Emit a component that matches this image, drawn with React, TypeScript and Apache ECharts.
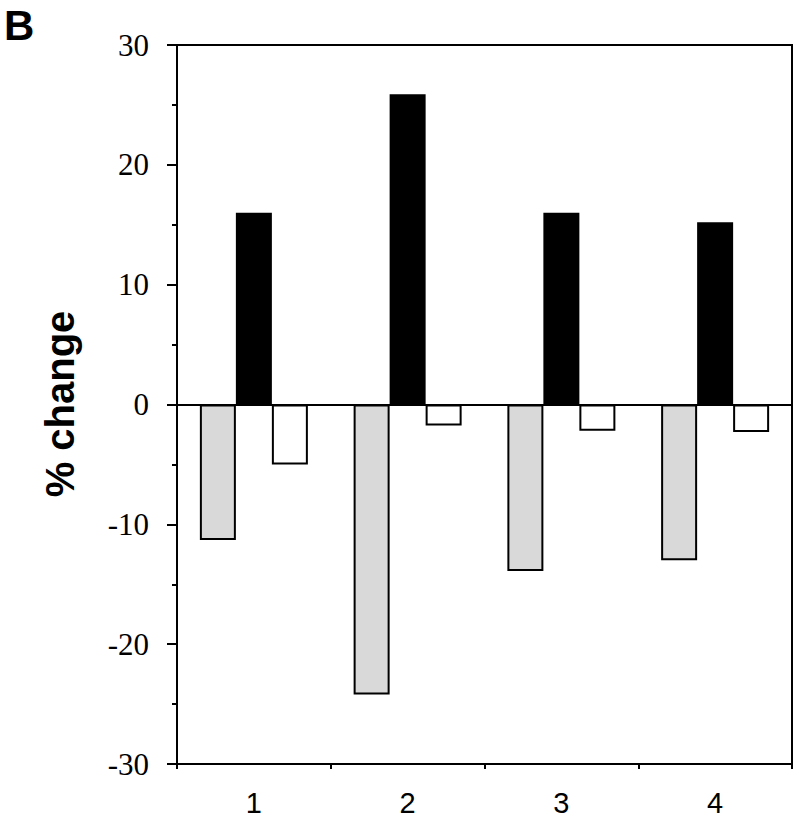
import React, { useEffect, useRef } from "react";
import * as echarts from "echarts";

const categories = ["1", "2", "3", "4"];
const grayValues = [-11.3, -24.2, -13.9, -13.0];
const blackValues = [16.0, 25.9, 16.0, 15.2];
const whiteValues = [-5.0, -1.75, -2.2, -2.3];
const yTicks = { min: -30, max: 30, interval: 10 };

export default function App() {
  const ref = useRef<HTMLDivElement>(null);
  useEffect(() => {
    if (!ref.current) return;
    const chart = echarts.init(ref.current, null, { renderer: "svg" });
    const barBase = {
      type: "bar" as const,
      barWidth: 36,
      barGap: "0%",
      itemStyle: { borderColor: "#000", borderWidth: 2 },
    };
    chart.setOption({
      animation: false,
      backgroundColor: "#fff",
      grid: {
        left: 177,
        right: 8,
        top: 45,
        bottom: 50,
        show: true,
        borderColor: "#000",
        borderWidth: 2,
        backgroundColor: "transparent",
      },
      xAxis: {
        type: "category",
        data: categories,
        axisLine: { onZero: false, lineStyle: { color: "#000", width: 2 } },
        axisTick: { show: true, alignWithLabel: false, length: 5, lineStyle: { color: "#000", width: 2 } },
        axisLabel: {
          margin: 24,
          fontFamily: "Liberation Sans",
          fontSize: 29,
          color: "#000",
        },
        splitLine: { show: false },
      },
      yAxis: {
        type: "value",
        min: yTicks.min,
        max: yTicks.max,
        interval: yTicks.interval,
        axisLine: { show: true, lineStyle: { color: "#000", width: 2 } },
        axisTick: { show: true, length: 10, lineStyle: { color: "#000", width: 2 } },
        minorTick: { show: true, splitNumber: 2, length: 5, lineStyle: { color: "#000", width: 2 } },
        axisLabel: {
          margin: 28,
          fontFamily: "Liberation Serif",
          fontSize: 31,
          color: "#000",
        },
        splitLine: { show: false },
      },
      graphic: [
        {
          type: "text",
          x: 4,
          y: 4,
          style: {
            text: "B",
            fontFamily: "Liberation Sans",
            fontWeight: "bold",
            fontSize: 42,
            fill: "#000",
            textAlign: "left",
            textVerticalAlign: "top",
          },
        },
        {
          type: "text",
          x: 60,
          y: 404,
          rotation: Math.PI / 2,
          style: {
            text: "% change",
            fontFamily: "Liberation Sans",
            fontWeight: "bold",
            fontSize: 40,
            fill: "#000",
            textAlign: "center",
            textVerticalAlign: "middle",
          },
        },
      ],
      series: [
        {
          ...barBase,
          name: "gray",
          data: grayValues,
          itemStyle: { color: "#d9d9d9", borderColor: "#000", borderWidth: 2 },
          markLine: {
            symbol: "none",
            silent: true,
            label: { show: false },
            lineStyle: { color: "#000", width: 2, type: "solid" },
            data: [{ yAxis: 0 }],
          },
        },
        {
          ...barBase,
          name: "black",
          data: blackValues,
          itemStyle: { color: "#000", borderColor: "#000", borderWidth: 2 },
        },
        {
          ...barBase,
          name: "white",
          data: whiteValues,
          itemStyle: { color: "#fff", borderColor: "#000", borderWidth: 2 },
        },
      ],
    });
    return () => chart.dispose();
  }, []);
  return <div ref={ref} style={{ position: "fixed", left: 0, top: 0, width: 800, height: 817 }} />;
}
